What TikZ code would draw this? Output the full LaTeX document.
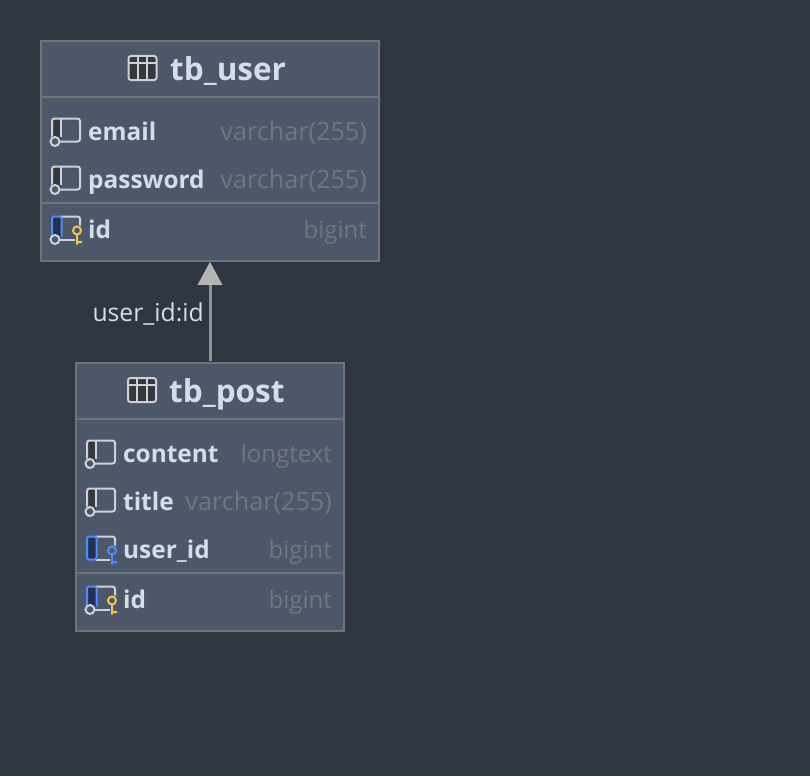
\documentclass[tikz,border=0pt]{standalone}
\usepackage{fontspec}
\setmainfont{Open Sans}
\usetikzlibrary{arrows.meta}
\definecolor{erd_bg}{RGB}{47,53,65}
\definecolor{erd_box}{RGB}{76,87,106}
\definecolor{erd_line}{RGB}{112,116,120}
\definecolor{erd_name}{RGB}{213,220,234}
\definecolor{erd_type}{RGB}{112,118,128}
\definecolor{erd_icon}{RGB}{205,209,216}
\definecolor{erd_dark}{RGB}{54,56,62}
\definecolor{erd_blue}{RGB}{84,138,247}
\definecolor{erd_navy}{RGB}{34,48,84}
\definecolor{erd_gold}{RGB}{244,195,85}
\definecolor{erd_tip}{RGB}{180,181,178}
\definecolor{erd_fk}{RGB}{145,147,145}
\tikzset{
    tablebox/.style={shape=rectangle,draw=erd_line,fill=erd_box,line width=1.5pt,inner sep=0pt},
    sepline/.style={draw=erd_line,line width=2pt},
    tabletitle/.style={anchor=base west,inner sep=0pt,text=erd_name,font=\fontsize{31.5}{32}\selectfont\bfseries},
    colname/.style={anchor=base west,inner sep=0pt,text=erd_name,font=\fontsize{24.4}{25}\selectfont\bfseries},
    coltype/.style={anchor=base east,inner sep=0pt,text=erd_type,font=\fontsize{25.2}{26}\selectfont},
    shorttype/.style={coltype,font=\fontsize{24}{25}\selectfont},
    fklabel/.style={anchor=base east,inner sep=0pt,text=erd_name,font=\fontsize{24.7}{25}\selectfont},
    fkline/.style={draw=erd_fk,line width=3pt,-{Triangle[length=23pt,width=24pt,color=erd_tip]},shorten <=1pt},
    iconline/.style={draw=erd_icon,line width=2pt,rounded corners=2.5pt},
    pics/tableicon/.style={code={
        \draw[iconline,fill=erd_dark] (0,0) rectangle (28,24);
        \draw[draw=erd_icon,line width=2pt] (0,7) -- (28,7) (9.3,0) -- (9.3,24) (18.6,0) -- (18.6,24);
    }},
    pics/fieldicon/.style={code={
        \fill[erd_dark] (0,0) rectangle (9,22);
        \draw[iconline] (0,18) |- (28,0) |- (7,23);
        \draw[draw=erd_icon,line width=2pt] (9,0) -- (9,18);
        \draw[draw=erd_icon,fill=erd_box,line width=2pt] (3,23) circle (4.5);
    }},
    pics/pkicon/.style={code={
        \draw[iconline] (9,0) -| (28,9);
        \draw[iconline] (7,23) -- (23,23);
        \draw[draw=erd_blue,fill=erd_navy,line width=2pt,rounded corners=1.5pt] (0,20) |- (9.5,0) -- (9.5,20);
        \draw[draw=erd_icon,fill=erd_box,line width=2pt] (3,23) circle (4.5);
        \draw[draw=erd_gold,line width=2pt] (25,14) circle (4) (25,18) -- (25,28) (25,25.5) -- (30,25.5);
    }},
    pics/fkicon/.style={code={
        \draw[iconline] (9,0) -| (28,9);
        \draw[iconline] (9,23) -- (23,23);
        \draw[draw=erd_blue,fill=erd_navy,line width=2pt,rounded corners=2pt] (0,0) rectangle (9.5,23);
        \draw[draw=erd_blue,line width=2pt] (25,14) circle (4) (25,18) -- (25,28) (25,25.5) -- (30,25.5);
    }}
}
\begin{document}
\begin{tikzpicture}[x=1pt,y=-1pt]
    \fill[erd_bg] (0,0) rectangle (810,776);
    \useasboundingbox (0,0) rectangle (810,776);

    % tb_user
    \node[tablebox,minimum width=338pt,minimum height=220pt] (tbuser) at (210,151) {};
    \draw[sepline] (tbuser.west |- 0,97) -- (tbuser.east |- 0,97);
    \draw[sepline] (tbuser.west |- 0,203) -- (tbuser.east |- 0,203);
    \pic at (128.5,56) {tableicon};
    \node[tabletitle] (usertitle) at (170,80) {tb\_user};
    \pic at (52,118.5) {fieldicon};
    \node[colname] (useremail) at (88,140) {email};
    \node[coltype] (useremailtype) at (367,140) {varchar(255)};
    \pic at (52,166.5) {fieldicon};
    \node[colname] (userpass) at (88,188) {password};
    \node[coltype] (userpasstype) at (367,188) {varchar(255)};
    \pic at (52,216.5) {pkicon};
    \node[colname] (userid) at (88,238) {id};
    \node[shorttype] (useridtype) at (367,238) {bigint};

    % tb_post
    \node[tablebox,minimum width=268pt,minimum height=268pt] (tbpost) at (210,497) {};
    \draw[sepline] (tbpost.west |- 0,419) -- (tbpost.east |- 0,419);
    \draw[sepline] (tbpost.west |- 0,573) -- (tbpost.east |- 0,573);
    \pic at (128,378) {tableicon};
    \node[tabletitle] (posttitle) at (169,402) {tb\_post};
    \pic at (87,440.5) {fieldicon};
    \node[colname] (postcontent) at (123,462) {content};
    \node[shorttype] (postcontenttype) at (332,462) {longtext};
    \pic at (87,488.5) {fieldicon};
    \node[colname] (postname) at (123,510) {title};
    \node[coltype] (postnametype) at (332,510) {varchar(255)};
    \pic at (87,536.5) {fkicon};
    \node[colname] (postuser) at (123,558) {user\_id};
    \node[shorttype] (postusertype) at (332,558) {bigint};
    \pic at (87,586.5) {pkicon};
    \node[colname] (postid) at (123,608) {id};
    \node[shorttype] (postidtype) at (332,608) {bigint};

    \draw[fkline] (tbpost.north) -- (tbuser.south);
    \node[fklabel] (fkname) at (204,321) {user\_id:id};
\end{tikzpicture}
\end{document}
